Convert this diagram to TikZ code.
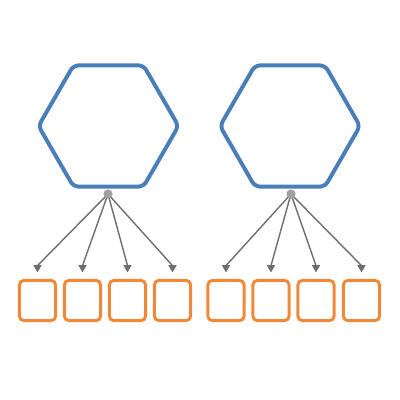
\documentclass[tikz,border=0pt]{standalone}
\usepackage{tikz}
\usetikzlibrary{arrows.meta,shapes.geometric,positioning}
\usepackage{xcolor}
\definecolor{hexblue}{RGB}{74,126,184}
\definecolor{boxorange}{RGB}{240,136,56}
\definecolor{linkgray}{RGB}{110,110,110}
\definecolor{hubgray}{RGB}{160,160,160}
\tikzstyle{hexnode} = [regular polygon, regular polygon sides=6, minimum size=35mm, inner sep=0pt, draw=hexblue, line width=2.8pt, rounded corners=1.3mm]
\tikzstyle{leaf} = [rectangle, minimum width=9.1mm, minimum height=10.1mm, inner sep=0pt, draw=boxorange, line width=2.1pt, rounded corners=1.2mm]
\tikzstyle{hub} = [circle, fill=hubgray, minimum size=2.3mm, inner sep=0pt]
\tikzstyle{link} = [line width=1pt, color=linkgray, -{Triangle[width=2mm,length=1.8mm]}, shorten >=1.6mm]

\begin{document}
\begin{tikzpicture}[x=0.25mm, y=-0.25mm]
    \useasboundingbox (0,0) rectangle (400,400);

    % Hexagons
    \node[hexnode] (hexA) at (108.5,126) {};
    \node[hexnode] (hexB) at (290,126) {};

    % Hub points
    \coordinate (hubA) at (108,194);
    \coordinate (hubB) at (291,194);

    % Boxes
    \node[leaf] (boxA1) at (37.5,300.5) {};
    \node[leaf] (boxA2) at (82.5,300.5) {};
    \node[leaf] (boxA3) at (127.5,300.5) {};
    \node[leaf] (boxA4) at (172.5,300.5) {};
    \node[leaf] (boxB1) at (226,300.5) {};
    \node[leaf] (boxB2) at (271,300.5) {};
    \node[leaf] (boxB3) at (316,300.5) {};
    \node[leaf] (boxB4) at (361.5,300.5) {};

    % Links (tips point straight down)
    \draw[link] (hubA) -- ([yshift=3.3mm]boxA1.north) -- (boxA1.north);
    \draw[link] (hubA) -- ([yshift=3.3mm]boxA2.north) -- (boxA2.north);
    \draw[link] (hubA) -- ([yshift=3.3mm]boxA3.north) -- (boxA3.north);
    \draw[link] (hubA) -- ([yshift=3.3mm]boxA4.north) -- (boxA4.north);
    \draw[link] (hubB) -- ([yshift=3.3mm]boxB1.north) -- (boxB1.north);
    \draw[link] (hubB) -- ([yshift=3.3mm]boxB2.north) -- (boxB2.north);
    \draw[link] (hubB) -- ([yshift=3.3mm]boxB3.north) -- (boxB3.north);
    \draw[link] (hubB) -- ([yshift=3.3mm]boxB4.north) -- (boxB4.north);

    % Hub dots on top
    \node[hub] at (hubA) {};
    \node[hub] at (hubB) {};
\end{tikzpicture}
\end{document}
